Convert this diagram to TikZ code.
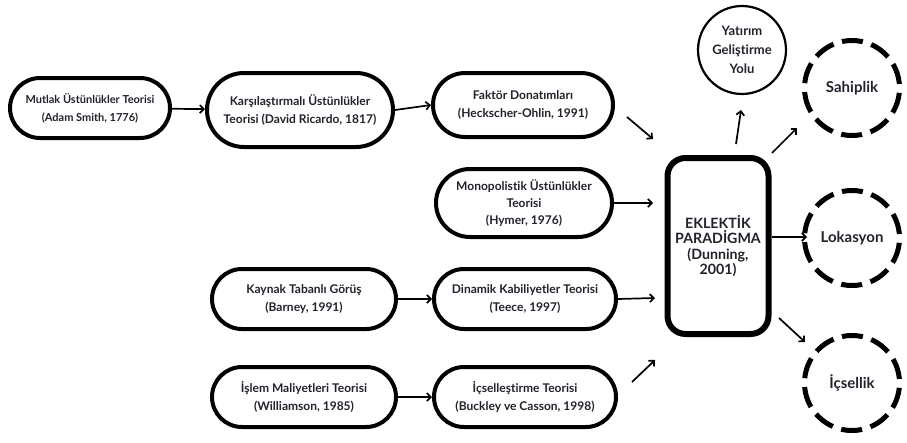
\documentclass[tikz,border=0pt]{standalone}
\usepackage{fontspec}
\setmainfont{Lato}[Ligatures={NoCommon}]
\usetikzlibrary{arrows.meta}
\definecolor{txt}{HTML}{22222C}
\tikzset{
  pill/.style={draw=black, line width=4pt, fill=white, text=txt, align=center,
    font=\fontsize{12}{18}\selectfont\bfseries, inner sep=2pt},
  bigbox/.style={draw=black, line width=6pt, rounded corners=18pt, fill=white, text=txt,
    align=center, font=\fontsize{14.2}{15.5}\selectfont\bfseries, minimum width=101pt, minimum height=176pt, inner sep=0pt},
  thincirc/.style={draw=black, line width=2.2pt, circle, minimum size=88pt, inner sep=0pt,
    text=txt, align=center, font=\fontsize{13}{19}\selectfont\bfseries},
  dcirc/.style={draw=black, line width=5pt, circle, minimum size=95pt, inner sep=0pt,
    dash pattern=on 21pt off 8.84pt, dash phase=-4pt, text=txt, font=\fontsize{15}{16}\selectfont\bfseries},
  arr/.style={draw=black, line width=1.7pt, -{Straight Barb[length=4pt,width=8pt]}},
}
\begin{document}
\begin{tikzpicture}[x=1pt,y=-1pt]
\useasboundingbox (0,0) rectangle (907,442);
% left column nodes
\node[pill, minimum width=160pt, minimum height=60pt, rounded corners=30pt,
  font=\fontsize{11}{18}\selectfont\bfseries] (M) at (90,108) {Mutlak Üstünlükler Teorisi\\(Adam Smith, 1776)};
\node[pill, minimum width=186pt, minimum height=74pt, rounded corners=37pt] (K) at (300,110)
  {Karşılaştırmalı Üstünlükler\\Teorisi (David Ricardo, 1817)};
\node[pill, minimum width=180pt, minimum height=64pt, rounded corners=32pt] (F) at (523,105)
  {Faktör Donatımları\\(Heckscher-Ohlin, 1991)};
\node[pill, minimum width=176pt, minimum height=68pt, rounded corners=34pt,
  font=\fontsize{12}{17}\selectfont\bfseries] (Mo) at (524,203)
  {Monopolistik Üstünlükler\\Teorisi\\(Hymer, 1976)};
\node[pill, minimum width=184pt, minimum height=60pt, rounded corners=30pt] (Ka) at (304,299)
  {Kaynak Tabanlı Görüş\\(Barney, 1991)};
\node[pill, minimum width=182pt, minimum height=60pt, rounded corners=30pt] (D) at (525,299)
  {Dinamik Kabiliyetler Teorisi\\(Teece, 1997)};
\node[pill, minimum width=184pt, minimum height=60pt, rounded corners=30pt] (I) at (304,397)
  {İşlem Maliyetleri Teorisi\\(Williamson, 1985)};
\node[pill, minimum width=182pt, minimum height=60pt, rounded corners=30pt] (Ic) at (525,397)
  {İçselleştirme Teorisi\\(Buckley ve Casson, 1998)};
% center
\node[bigbox] (E) at (718,246) {EKLEKTİK\\PARADİGMA\\(Dunning,\\2001)};
% right
\node[thincirc] (Y) at (742,50) {Yatırım\\Geliştirme\\Yolu};
\node[dcirc] (S) at (852,88) {Sahiplik};
\node[dcirc] (L) at (852,238) {Lokasyon};
\node[dcirc] (Is) at (852,383) {İçsellik};
% free ends
\coordinate (f1) at (627,117); \coordinate (f2) at (653,139);
\coordinate (m2) at (653,203);
\coordinate (d2) at (655,298);
\coordinate (c1) at (632,382); \coordinate (c2) at (655,360);
\coordinate (y1) at (736,144); \coordinate (y2) at (741,110);
\coordinate (s1) at (772,153); \coordinate (s2) at (797,128);
\coordinate (l2) at (807,237);
\coordinate (i1) at (779,318); \coordinate (i2) at (805,342);
% connectors
\draw[arr] (M) -- (K);
\draw[arr] (K.east) -- (F.west);
\draw[arr] (Ka) -- (D);
\draw[arr] (I) -- (Ic);
\draw[arr] (f1) -- (f2);
\draw[arr] (Mo.east) -- (m2);
\draw[arr] (D.east) -- (d2);
\draw[arr] (c1) -- (c2);
\draw[arr] (y1) -- (y2);
\draw[arr] (s1) -- (s2);
\draw[arr] (E.east |- l2) -- (l2);
\draw[arr] (i1) -- (i2);
\end{tikzpicture}
\end{document}
